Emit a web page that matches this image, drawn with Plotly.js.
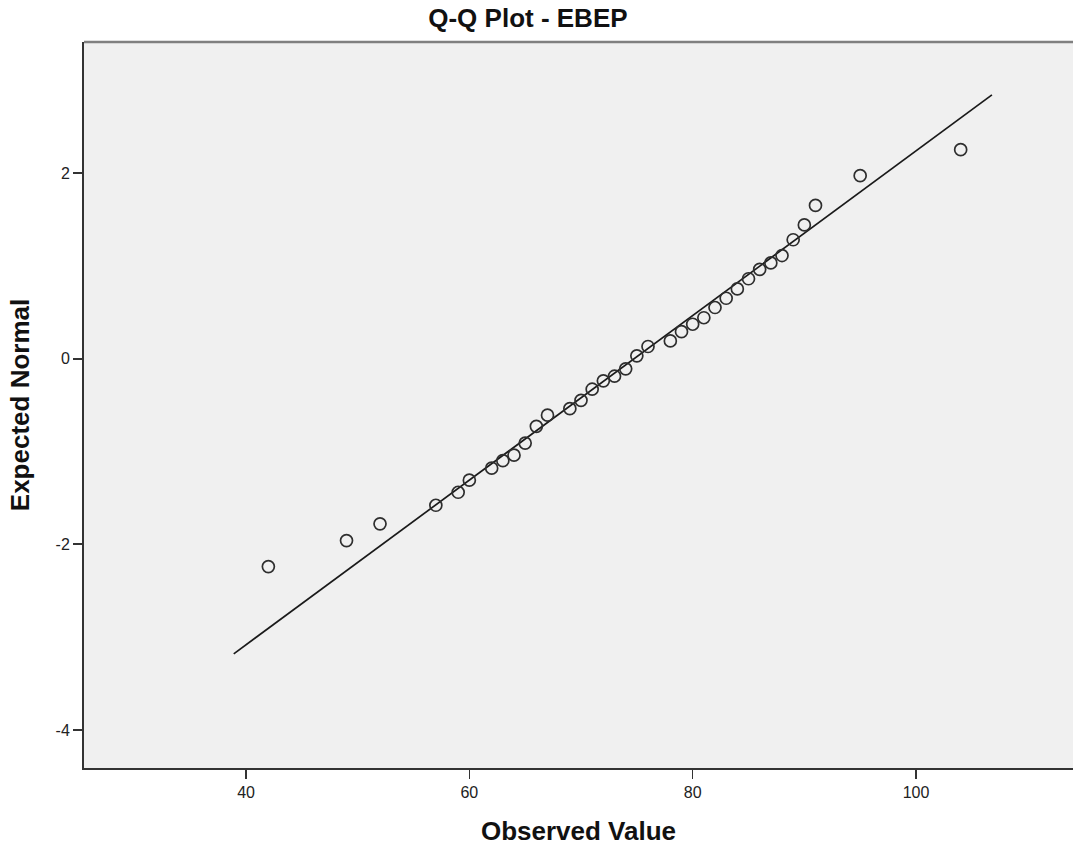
<!DOCTYPE html>
<html>
<head>
<meta charset="utf-8">
<script src="https://cdn.plot.ly/plotly-3.0.1.min.js"></script>
<style>html,body{margin:0;padding:0;background:#fff;}#chart{width:1073px;height:852px;}</style>
</head>
<body>
<div id="chart"></div>
<script>
const observed = [42, 49, 52, 57, 59, 60, 62, 63, 64, 65, 66, 67, 69, 70, 71, 72, 73, 74, 75, 76,
                  78, 79, 80, 81, 82, 83, 84, 85, 86, 87, 88, 89, 90, 91, 95, 104];
const expected = [-2.24, -1.96, -1.78, -1.58, -1.44, -1.31, -1.18, -1.10, -1.04, -0.91, -0.73, -0.61, -0.54, -0.45, -0.33, -0.24, -0.19, -0.11, 0.03, 0.13,
                  0.19, 0.29, 0.37, 0.44, 0.55, 0.65, 0.75, 0.86, 0.96, 1.03, 1.11, 1.28, 1.44, 1.65, 1.97, 2.25];
// Reference line endpoints
const lineX = [38.9, 106.8];
const lineY = [-3.18, 2.84];
const xTicks = [40, 60, 80, 100];
const yTicks = [-4, -2, 0, 2];

const traces = [
  {
    x: lineX, y: lineY, type: 'scatter', mode: 'lines',
    line: {color: '#1a1a1a', width: 1.7}, hoverinfo: 'skip', showlegend: false
  },
  {
    x: observed, y: expected, type: 'scatter', mode: 'markers',
    marker: {symbol: 'circle-open', size: 12, color: '#2e2e2e', line: {width: 1.7, color: '#2e2e2e'}},
    showlegend: false
  }
];

const layout = {
  width: 1073, height: 852,
  margin: {l: 84, r: 0, t: 42, b: 84, pad: 0},
  paper_bgcolor: '#ffffff',
  plot_bgcolor: '#f0f0f0',
  font: {family: 'Liberation Sans, Arial, sans-serif', color: '#222'},
  title: {text: '<b>Q-Q Plot - EBEP</b>', font: {size: 26, color: '#111'}, xref: 'container', x: 0.492, xanchor: 'center', yref: 'container', y: 0.979, yanchor: 'middle'},
  xaxis: {
    range: [25.49, 114.06], tickvals: xTicks, ticktext: xTicks.map(String),
    showgrid: false, zeroline: false, showline: true, linecolor: '#333', linewidth: 2,
    ticks: 'outside', ticklen: 9, tickwidth: 1.5, tickcolor: '#333',
    tickfont: {size: 16, color: '#222'},
    title: {text: '<b>Observed Value</b>', font: {size: 26, color: '#111'}, standoff: 22}
  },
  yaxis: {
    range: [-4.41, 3.41], tickvals: yTicks, ticktext: yTicks.map(String),
    showgrid: false, zeroline: false, showline: true, linecolor: '#333', linewidth: 2,
    ticks: 'outside', ticklen: 9, tickwidth: 2, tickcolor: '#333',
    tickfont: {size: 16, color: '#222'},
    title: {text: '<b>Expected Normal</b>', font: {size: 26, color: '#111'}, standoff: 18}
  },
  shapes: [
    {type: 'line', xref: 'paper', yref: 'paper', x0: 0, x1: 1, y0: 1, y1: 1, line: {color: '#808080', width: 2.5}}
  ]
};

Plotly.newPlot('chart', traces, layout, {displayModeBar: false, staticPlot: true});
</script>
</body>
</html>
